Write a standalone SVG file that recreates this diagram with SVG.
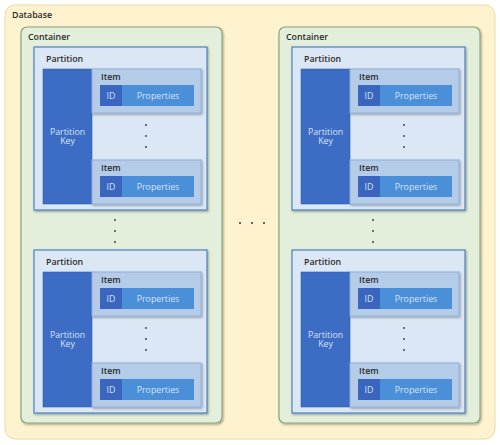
<svg xmlns="http://www.w3.org/2000/svg" xmlns:xlink="http://www.w3.org/1999/xlink" width="500" height="445" viewBox="0 0 500 445">
<style>
.db{fill:#fff2cf;stroke:#e9dca8;stroke-width:1}
.ct{fill:#e3efda;stroke:#8aa67c;stroke-width:1.2}
.pt{fill:#dce7f5;stroke:#4f80c0;stroke-width:1.2}
.pk{fill:#3d6cc4;stroke:#3560b0;stroke-width:0.6}
.it{fill:#b4cce8;stroke:#8eb0d8;stroke-width:1}
.id{fill:#3a66bf}
.pr{fill:#4a8fd8}
.lbl{font-family:"Open Sans","DejaVu Sans",sans-serif;font-weight:600;font-size:8.8px;fill:#2b2b2b}
.wt{font-family:"Open Sans","DejaVu Sans",sans-serif;font-size:8.8px;fill:#d6e4f6;text-anchor:middle}
.dot{fill:#333}
.sh{filter:url(#shadow)}
</style>
<defs>
<filter id="shadow" x="-10%" y="-10%" width="120%" height="120%">
<feDropShadow dx="1" dy="1.2" stdDeviation="0.8" flood-color="#000" flood-opacity="0.35"/>
</filter>
<g id="partition">
<rect class="pt sh" x="0" y="0" width="173" height="163"/>
<text class="lbl" x="12" y="15">Partition</text>
<rect class="pk" x="9" y="22" width="49" height="135"/>
<text class="wt" x="33.5" y="88">Partition</text>
<text class="wt" x="33.5" y="97">Key</text>
<g>
<rect class="it sh" x="58" y="22" width="109" height="44"/>
<text class="lbl" x="67" y="33">Item</text>
<rect class="id" x="66" y="38" width="22" height="21"/>
<rect class="pr" x="88" y="38" width="72" height="21"/>
<text class="wt" x="77" y="52">ID</text>
<text class="wt" x="124" y="52">Properties</text>
</g>
<circle class="dot" cx="112" cy="78" r="0.9"/>
<circle class="dot" cx="112" cy="89" r="0.9"/>
<circle class="dot" cx="112" cy="100" r="0.9"/>
<g>
<rect class="it sh" x="58" y="113" width="109" height="44"/>
<text class="lbl" x="67" y="124">Item</text>
<rect class="id" x="66" y="129" width="22" height="21"/>
<rect class="pr" x="88" y="129" width="72" height="21"/>
<text class="wt" x="77" y="143">ID</text>
<text class="wt" x="124" y="143">Properties</text>
</g>
</g>
</defs>
<g id="database">
<rect class="db" x="5" y="5" width="490" height="434" rx="10"/>
<text class="lbl" x="12" y="18">Database</text>
</g>
<g id="container-1">
<rect class="ct sh" x="21" y="27" width="201" height="396" rx="6"/>
<text class="lbl" x="28" y="40">Container</text>
</g>
<g id="container-2">
<rect class="ct sh" x="279" y="27" width="201" height="396" rx="6"/>
<text class="lbl" x="286" y="40">Container</text>
</g>
<g id="partition-1"><use xlink:href="#partition" x="34" y="47"/></g>
<g id="partition-2"><use xlink:href="#partition" x="34" y="250"/></g>
<g id="partition-3"><use xlink:href="#partition" x="292" y="47"/></g>
<g id="partition-4"><use xlink:href="#partition" x="292" y="250"/></g>
<g id="ellipses">
<circle class="dot" cx="115" cy="220" r="0.9"/>
<circle class="dot" cx="115" cy="231" r="0.9"/>
<circle class="dot" cx="115" cy="242" r="0.9"/>
<circle class="dot" cx="373" cy="220" r="0.9"/>
<circle class="dot" cx="373" cy="231" r="0.9"/>
<circle class="dot" cx="373" cy="242" r="0.9"/>
<circle class="dot" cx="240" cy="223" r="1"/>
<circle class="dot" cx="252" cy="223" r="1"/>
<circle class="dot" cx="264" cy="223" r="1"/>
</g>
<g id="connectors"></g>
</svg>
